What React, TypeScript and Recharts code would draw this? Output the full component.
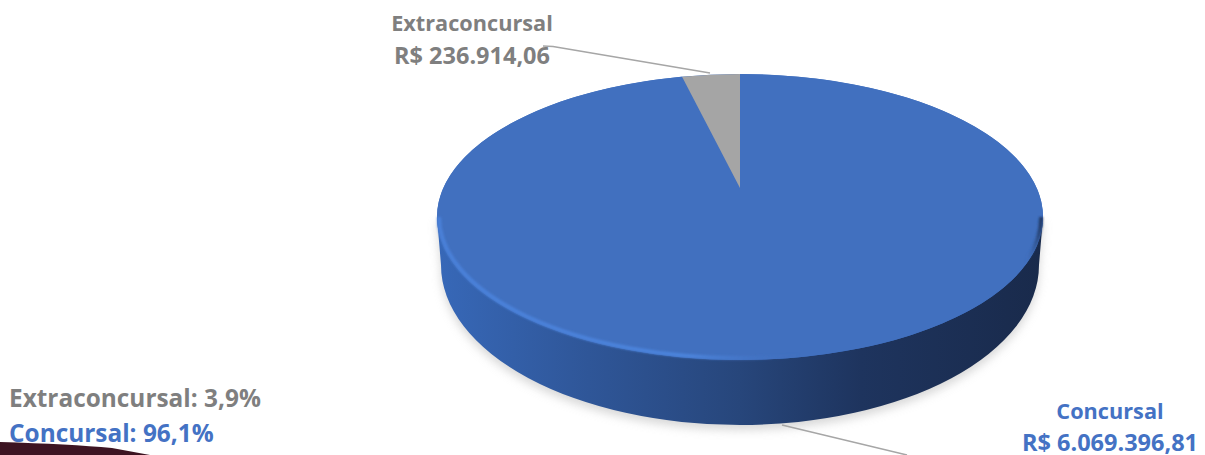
import { Legend, Pie, PieChart } from "recharts";

const categories = ["Concursal", "Extraconcursal"];
const values = [6069396.81, 236914.06];
const valueLabels = ["R$ 6.069.396,81", "R$ 236.914,06"];
const shareLabels = ["Concursal: 96,1%", "Extraconcursal: 3,9%"];
const colors = ["#4170bf", "#a5a5a5"];
const textColors = ["#4472c4", "#7f7f7f"];

const chartData = categories.map((name, i) => ({ name, value: values[i], fill: colors[i] }));

const FONT = "'Open Sans', sans-serif";
const RATIO = 143 / 303; // flattening of the disc
const TILT = 0.203; // perspective, moves the apex up from the ellipse centre

// circle -> tilted disc, keeps sector edges straight
const project = (cx: number, cy: number, r: number, deg: number) => {
  const u = Math.cos((deg * Math.PI) / 180);
  const v = Math.sin((deg * Math.PI) / 180);
  const d = 1 + TILT * v;
  return {
    x: cx + (r * u * Math.sqrt(1 - TILT * TILT)) / d,
    y: cy - (r * RATIO * (v + TILT)) / d,
  };
};

const DiscSlice = (props: any) => {
  const { cx, cy, outerRadius: r, startAngle, endAngle, fill, index } = props;
  const ry = r * RATIO;
  const a = project(cx, cy, r, startAngle);
  const b = project(cx, cy, r, endAngle);
  const large = Math.abs(endAngle - startAngle) > 180 ? 1 : 0;
  const apexY = cy - ry * TILT;
  const top = `M${cx},${apexY} L${a.x},${a.y} A${r},${ry} 0 ${large} 1 ${b.x},${b.y} Z`;
  if (index !== 0) return <path d={top} fill={fill} />;

  const lowR = r - 4;
  const lowY = cy + 48;
  const lowRy = 160;
  const wall = `M${cx - r},${cy} L${cx - lowR},${lowY} A${lowR},${lowRy} 0 0 0 ${cx + lowR},${lowY} L${cx + r},${cy} Z`;
  return (
    <g>
      <defs>
        <linearGradient id="wallFill" gradientUnits="userSpaceOnUse" x1={cx - r} y1="0" x2={cx + r} y2="0">
          <stop offset="0%" stopColor="#3768b8" />
          <stop offset="25%" stopColor="#2f5698" />
          <stop offset="50%" stopColor="#27467b" />
          <stop offset="70%" stopColor="#1e345e" />
          <stop offset="100%" stopColor="#192a4b" />
        </linearGradient>
        <linearGradient id="rimStroke" gradientUnits="userSpaceOnUse" x1={cx - r} y1="0" x2={cx + r} y2="0">
          <stop offset="0%" stopColor="#4a80d8" />
          <stop offset="42%" stopColor="#4c84dc" />
          <stop offset="60%" stopColor="#4170bf" stopOpacity="0" />
          <stop offset="97%" stopColor="#4170bf" stopOpacity="0" />
          <stop offset="100%" stopColor="#1a2c4e" />
        </linearGradient>
        <filter id="softShadow" x="-10%" y="-10%" width="120%" height="120%">
          <feGaussianBlur stdDeviation="5" />
        </filter>
        <filter id="softRim" x="-5%" y="-5%" width="110%" height="110%">
          <feGaussianBlur stdDeviation="0.8" />
        </filter>
      </defs>
      <path d={wall} fill="#bdbdbd" opacity={0.6} filter="url(#softShadow)" transform="translate(0,5)" />
      <path d={wall} fill="url(#wallFill)" />
      <ellipse cx={cx} cy={cy} rx={r} ry={ry} fill={fill} />
      <path d={top} fill={fill} />
      <path
        d={`M${cx - r + 2},${cy} A${r - 2},${ry - 2} 0 0 0 ${cx + r - 2},${cy}`}
        fill="none"
        stroke="url(#rimStroke)"
        strokeWidth={4}
        filter="url(#softRim)"
      />
    </g>
  );
};

const SliceLabel = (props: any) => {
  const { index } = props;
  const x = index === 0 ? 1110 : 472;
  const y = index === 0 ? 419 : 31;
  const line = index === 0 ? "M782,425 L907,455" : "M543,46 L553,46.5 L710,73";
  return (
    <g>
      <path d={line} fill="none" stroke="#a6a6a6" strokeWidth={1.5} />
      <text x={x} y={y} textAnchor="middle" fontFamily={FONT} fontWeight={700} fill={textColors[index]}>
        <tspan x={x} fontSize={21.7}>{categories[index]}</tspan>
        <tspan x={x} dy={index === 0 ? 32 : 33} fontSize={23.5}>{valueLabels[index]}</tspan>
      </text>
    </g>
  );
};

const ShareLegend = () => (
  <div style={{ fontFamily: FONT, fontWeight: 700, fontSize: 24.4, lineHeight: "35px" }}>
    <div style={{ color: textColors[1] }}>{shareLabels[1]}</div>
    <div style={{ color: textColors[0] }}>{shareLabels[0]}</div>
  </div>
);

export default function App() {
  return (
    <div style={{ position: "absolute", left: 0, top: 0, width: 1205, height: 455, overflow: "hidden", background: "#fff" }}>
      <svg width={280} height={20} style={{ position: "absolute", left: 0, top: 435 }}>
        <path d="M0,7 Q70,9 112,13 L150,20 L0,20 Z" fill="#3d1422" />
      </svg>
      <div style={{ position: "absolute", left: 0, top: 0 }}>
        <PieChart width={1205} height={455} margin={{ top: 0, right: 0, bottom: 0, left: 0 }}>
          <Pie
            data={chartData}
            dataKey="value"
            nameKey="name"
            cx={740}
            cy={217}
            outerRadius={303}
            startAngle={90}
            endAngle={-270}
            stroke="none"
            shape={DiscSlice}
            label={SliceLabel}
            labelLine={false}
            isAnimationActive={false}
          />
          <Legend
            content={ShareLegend}
            layout="vertical"
            wrapperStyle={{ position: "absolute", left: 9, top: 380, width: 300, bottom: "auto" }}
          />
        </PieChart>
      </div>
    </div>
  );
}
